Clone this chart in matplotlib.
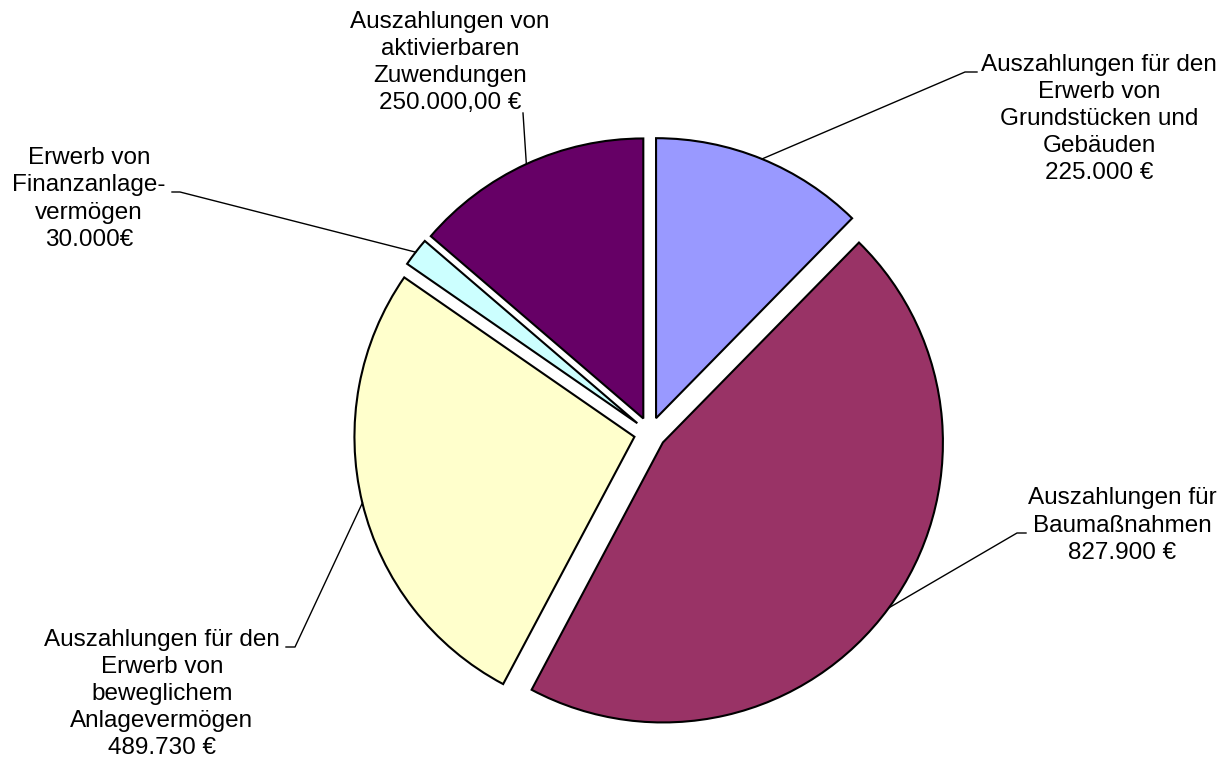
import matplotlib.pyplot as plt
import numpy as np

plt.rcParams['font.family'] = ['Liberation Sans', 'DejaVu Sans']

# data
labels = [
    "Auszahlungen für den\nErwerb von\nGrundstücken und\nGebäuden\n225.000 €",
    "Auszahlungen für\nBaumaßnahmen\n827.900 €",
    "Auszahlungen für den\nErwerb von\nbeweglichem\nAnlagevermögen\n489.730 €",
    "Erwerb von\nFinanzanlage-\nvermögen\n30.000€",
    "Auszahlungen von\naktivierbaren\nZuwendungen\n250.000,00 €",
]
values = [225000, 827900, 489730, 30000, 250000]
colors = ['#9999FF', '#993366', '#FFFFCC', '#CCFFFF', '#660066']

# layout (pixel coords, y pointing up)
W, H = 1228, 764
center = (650, H - 433)
radius = 280
explode = [16] * len(values)
# text block centres and leader-line knee points
text_pos = [(1099, H - 119), (1122, H - 525.5), (162, H - 694), (89, H - 199), (450, H - 62.5)]
knees = [
    [(965, H - 72), (977, H - 72)],
    [(1017, H - 533), (1026, H - 533)],
    [(295, H - 647), (286, H - 647)],
    [(180, H - 192), (172, H - 192)],
    [(523, H - 113)],
]

fig = plt.figure(figsize=(W / 100, H / 100), dpi=100)
ax = fig.add_axes([0, 0, 1, 1])

wedges, _ = ax.pie(values, colors=colors, startangle=90, counterclock=False,
                   center=center, radius=radius, explode=explode,
                   wedgeprops=dict(edgecolor='black', linewidth=1.5))

for w, lab, tp, kn in zip(wedges, labels, text_pos, knees):
    mid = np.deg2rad((w.theta1 + w.theta2) / 2)
    cx, cy = w.center
    pts = [(cx + w.r * np.cos(mid), cy + w.r * np.sin(mid))] + kn
    xs, ys = zip(*pts)
    ax.plot(xs, ys, color='black', lw=1.0)
    ax.text(tp[0], tp[1], lab, ha='center', va='center', multialignment='center',
            fontsize=17.5, linespacing=1.3, color='black')

ax.set_xlim(0, W)
ax.set_ylim(0, H)
ax.set_aspect('auto')
ax.axis('off')

plt.savefig('out.png', dpi=100)
